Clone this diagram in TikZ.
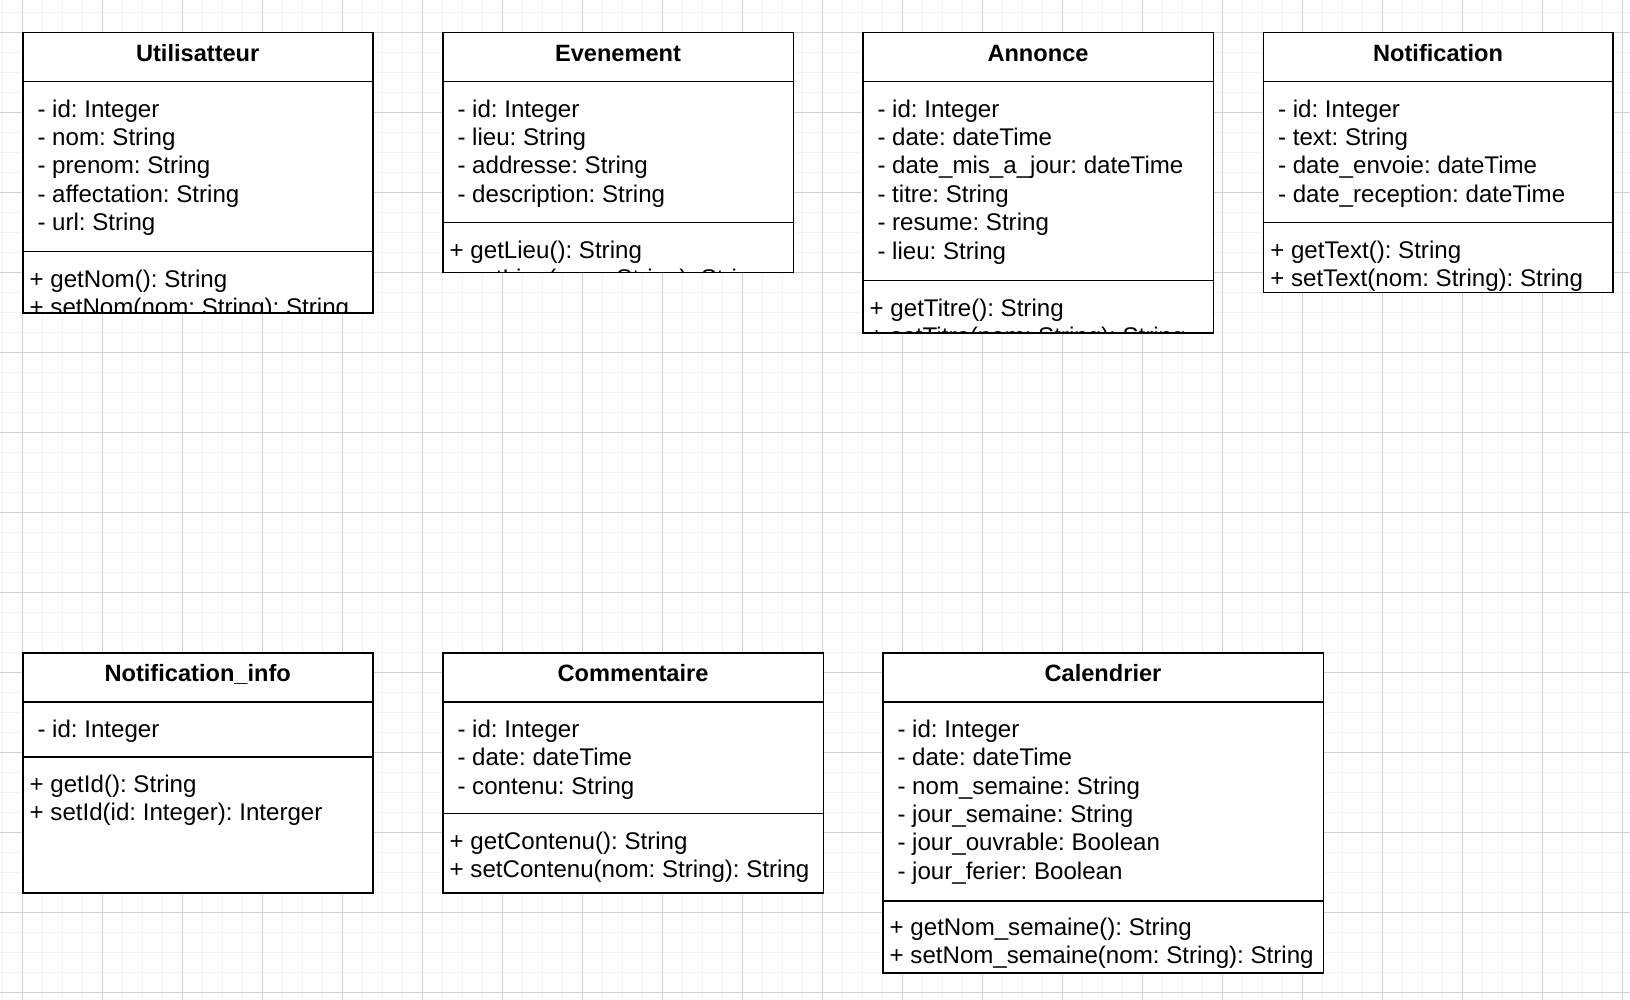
\documentclass[tikz,border=0pt]{standalone}
\usepackage{fontspec}
\setmainfont{Liberation Sans}
\frenchspacing
\begin{document}
\begin{tikzpicture}[x=1pt,y=-1pt,
        classbox/.style={draw=black, line width=1.6pt},
        minorgrid/.style={draw=black!5, line width=1.5pt},
        majorgrid/.style={draw=black!18, line width=1pt},
        title/.style={font=\fontsize{23.6}{28.4}\selectfont\bfseries, anchor=base, inner sep=0pt},
        member/.style={font=\fontsize{24.1}{28.4}\selectfont, anchor=base west, inner sep=0pt}]
    \useasboundingbox (0,0) rectangle (1630,1000);
    % background grid
    \fill[white] (0,0) rectangle (1630,1000);
    \foreach \k in {0,...,81} \draw[minorgrid] (2.7+20*\k,0) -- (2.7+20*\k,1000);
    \foreach \k in {0,...,49} \draw[minorgrid] (0,12.7+20*\k) -- (1630,12.7+20*\k);
    \foreach \k in {0,...,20} \draw[majorgrid] (22.7+80*\k,0) -- (22.7+80*\k,1000);
    \foreach \k in {0,...,12} \draw[majorgrid] (0,32.7+80*\k) -- (1630,32.7+80*\k);

    % Utilisatteur
    \fill[white] (22.7,32.7) rectangle (372.7,312.7);
    \node[title] (utilisatteur) at (197.7,61.7) {Utilisatteur};
    \foreach \t [count=\i from 0] in {- id: Integer, - nom: String, - prenom: String, - affectation: String, - url: String}
        \node[member] (utilisatteur-a\i) at (37.3,117.2+28.4*\i) {\t};
    \begin{scope}
        \clip (22.7,251.7) rectangle (372.7,312.7);
        \foreach \t [count=\i from 0] in {+ getNom(): String, + setNom(nom: String): String}
            \node[member] (utilisatteur-m\i) at (29.5,287.2+28.4*\i) {\t};
    \end{scope}
    \draw[classbox] (22.7,32.7) rectangle (372.7,312.7);
    \draw[classbox] (22.7,81.7) -- (372.7,81.7);
    \draw[classbox] (22.7,251.7) -- (372.7,251.7);

    % Evenement
    \fill[white] (442.7,32.7) rectangle (793.3,272.7);
    \node[title] (evenement) at (618,61.7) {Evenement};
    \foreach \t [count=\i from 0] in {- id: Integer, - lieu: String, - addresse: String, - description: String}
        \node[member] (evenement-a\i) at (457.3,117.2+28.4*\i) {\t};
    \begin{scope}
        \clip (442.7,222.7) rectangle (793.3,272.7);
        \foreach \t [count=\i from 0] in {+ getLieu(): String, + setLieu(nom: String): String}
            \node[member] (evenement-m\i) at (449.5,258.2+28.4*\i) {\t};
    \end{scope}
    \draw[classbox] (442.7,32.7) rectangle (793.3,272.7);
    \draw[classbox] (442.7,81.7) -- (793.3,81.7);
    \draw[classbox] (442.7,222.7) -- (793.3,222.7);

    % Annonce
    \fill[white] (862.7,32.7) rectangle (1213.3,332.7);
    \node[title] (annonce) at (1038,61.7) {Annonce};
    \foreach \t [count=\i from 0] in {- id: Integer, - date: dateTime, - date\_mis\_a\_jour: dateTime, - titre: String, - resume: String, - lieu: String}
        \node[member] (annonce-a\i) at (877.3,117.2+28.4*\i) {\t};
    \begin{scope}
        \clip (862.7,280.7) rectangle (1213.3,332.7);
        \foreach \t [count=\i from 0] in {+ getTitre(): String, + setTitre(nom: String): String}
            \node[member] (annonce-m\i) at (869.5,316.2+28.4*\i) {\t};
    \end{scope}
    \draw[classbox] (862.7,32.7) rectangle (1213.3,332.7);
    \draw[classbox] (862.7,81.7) -- (1213.3,81.7);
    \draw[classbox] (862.7,280.7) -- (1213.3,280.7);

    % Notification
    \fill[white] (1263.3,32.7) rectangle (1612.7,292.7);
    \node[title] (notification) at (1438,61.7) {Notification};
    \foreach \t [count=\i from 0] in {- id: Integer, - text: String, - date\_envoie: dateTime, - date\_reception: dateTime}
        \node[member] (notification-a\i) at (1277.9,117.2+28.4*\i) {\t};
    \begin{scope}
        \clip (1263.3,222.7) rectangle (1612.7,292.7);
        \foreach \t [count=\i from 0] in {+ getText(): String, + setText(nom: String): String}
            \node[member] (notification-m\i) at (1270.1,258.2+28.4*\i) {\t};
    \end{scope}
    \draw[classbox] (1263.3,32.7) rectangle (1612.7,292.7);
    \draw[classbox] (1263.3,81.7) -- (1612.7,81.7);
    \draw[classbox] (1263.3,222.7) -- (1612.7,222.7);

    % Notification_info
    \fill[white] (22.7,652.7) rectangle (372.7,892.7);
    \node[title] (notifinfo) at (197.7,681.7) {Notification\_info};
    \node[member] (notifinfo-a0) at (37.3,737.2) {- id: Integer};
    \foreach \t [count=\i from 0] in {+ getId(): String, + setId(id: Integer): Interger}
        \node[member] (notifinfo-m\i) at (29.5,792.2+28.4*\i) {\t};
    \draw[classbox] (22.7,652.7) rectangle (372.7,892.7);
    \draw[classbox] (22.7,701.7) -- (372.7,701.7);
    \draw[classbox] (22.7,756.7) -- (372.7,756.7);

    % Commentaire
    \fill[white] (442.7,652.7) rectangle (823.3,892.7);
    \node[title] (commentaire) at (633,681.7) {Commentaire};
    \foreach \t [count=\i from 0] in {- id: Integer, - date: dateTime, - contenu: String}
        \node[member] (commentaire-a\i) at (457.3,737.2+28.4*\i) {\t};
    \foreach \t [count=\i from 0] in {+ getContenu(): String, + setContenu(nom: String): String}
        \node[member] (commentaire-m\i) at (449.5,849.5+28.4*\i) {\t};
    \draw[classbox] (442.7,652.7) rectangle (823.3,892.7);
    \draw[classbox] (442.7,701.7) -- (823.3,701.7);
    \draw[classbox] (442.7,813.3) -- (823.3,813.3);

    % Calendrier
    \fill[white] (882.7,652.7) rectangle (1323.3,972.7);
    \node[title] (calendrier) at (1103,681.7) {Calendrier};
    \foreach \t [count=\i from 0] in {- id: Integer, - date: dateTime, - nom\_semaine: String, - jour\_semaine: String, - jour\_ouvrable: Boolean, - jour\_ferier: Boolean}
        \node[member] (calendrier-a\i) at (897.3,737.2+28.4*\i) {\t};
    \foreach \t [count=\i from 0] in {+ getNom\_semaine(): String, + setNom\_semaine(nom: String): String}
        \node[member] (calendrier-m\i) at (889.5,935.5+28.4*\i) {\t};
    \draw[classbox] (882.7,652.7) rectangle (1323.3,972.7);
    \draw[classbox] (882.7,701.7) -- (1323.3,701.7);
    \draw[classbox] (882.7,901) -- (1323.3,901);
\end{tikzpicture}
\end{document}
